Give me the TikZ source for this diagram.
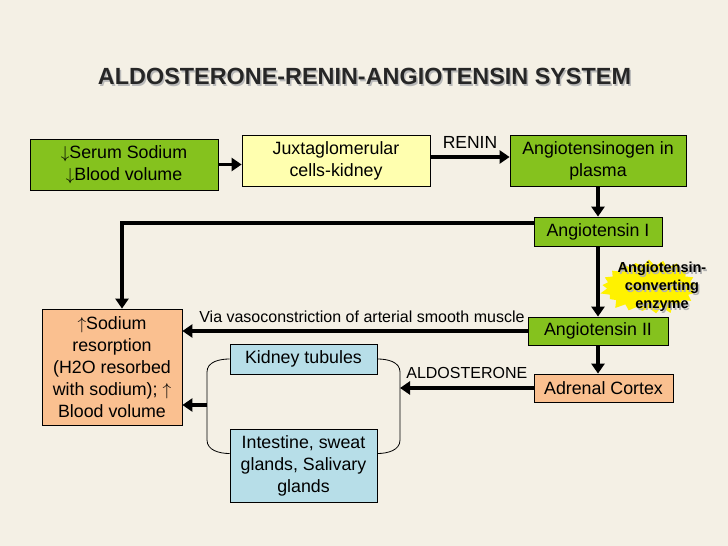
\documentclass[tikz,border=0pt]{standalone}
\usepackage{fontspec}
\setmainfont{Liberation Sans}
\usetikzlibrary{positioning,shapes.symbols,arrows.meta}

\definecolor{boxgreen}{RGB}{133,194,30}
\definecolor{boxyellow}{RGB}{255,255,175}
\definecolor{boxpeach}{RGB}{250,192,144}
\definecolor{boxblue}{RGB}{183,222,232}
\definecolor{bgbeige}{RGB}{244,240,229}

\begin{document}
\begin{tikzpicture}[x=1pt,y=-1pt,
		box/.style={ % common look of the boxes
				draw=black, line width=0.8pt, inner sep=0pt, align=center,
				font=\fontsize{17.8}{22}\selectfont
			},
		greenbox/.style={box, fill=boxgreen},
		yellowbox/.style={box, fill=boxyellow},
		peachbox/.style={box, fill=boxpeach},
		bluebox/.style={box, fill=boxblue},
		flow/.style={line width=3.5pt, -{Triangle[length=10pt,width=13pt]}},
		bracket/.style={line width=0.8pt},
		note/.style={inner sep=0pt, font=\fontsize{16}{18}\selectfont},
		heading/.style={inner sep=0pt, font=\bfseries\fontsize{23.4}{28}\selectfont}
	]
	% background
	\fill[bgbeige] (0,0) rectangle (728,546);
	\useasboundingbox (0,0) rectangle (728,546);
	% title
	\node[heading, text=gray!55] at (366,78) {ALDOSTERONE-RENIN-ANGIOTENSIN SYSTEM};
	\node[heading, text=black!85] (title) at (364.5,76.5) {ALDOSTERONE-RENIN-ANGIOTENSIN SYSTEM};
	% top row
	\node[greenbox, minimum width=188pt, minimum height=51pt] (serum) at (124,164.5)
	{$\downarrow$Serum Sodium\\$\downarrow$Blood volume};
	\node[yellowbox, minimum width=188pt, minimum height=51pt] (juxta) at (336,160.5)
	{Juxtaglomerular\\cells-kidney};
	\node[greenbox, minimum width=176pt, minimum height=51pt] (agen) at (598,160.5)
	{Angiotensinogen in\\plasma};
	% right column
	\node[greenbox, minimum width=128pt, minimum height=29pt] (aI) at (598,231.5) {Angiotensin I};
	\node[greenbox, minimum width=140pt, minimum height=28pt] (aII) at (598,331) {Angiotensin II};
	\node[peachbox, minimum width=139pt, minimum height=28pt] (adrenal) at (603.5,388) {Adrenal Cortex};
	% left side
	\node[peachbox, minimum width=140pt, minimum height=116pt] (sodium) at (112,367)
	{$\uparrow$Sodium\\resorption\\(H2O resorbed\\with sodium); $\uparrow$\\Blood volume};
	\node[bluebox, minimum width=147pt, minimum height=30pt] (kidney) at (303.5,359) {Kidney tubules};
	\node[bluebox, minimum width=147pt, minimum height=73pt] (intestine) at (303.5,465.5)
	{Intestine, sweat\\glands, Salivary\\glands};
	% enzyme burst
	\node[starburst, fill=yellow, draw=none, minimum width=102pt, minimum height=60pt,
		starburst points=21, starburst point height=9pt] (burst) at (649,287) {};
	\node[align=center, inner sep=0pt, text=gray!60, font=\bfseries\fontsize{14.5}{18}\selectfont]
	at (663.5,288.5) {Angiotensin-\\converting\\enzyme};
	\node[align=center, inner sep=0pt, font=\bfseries\fontsize{14.5}{18}\selectfont] (ace)
	at (662,287) {Angiotensin-\\converting\\enzyme};
	% helper points
	\coordinate (corner) at (122,223);
	\coordinate (lbr) at (207,405);
	\coordinate (rbr) at (400,388);
	% arrows
	\draw[flow] (serum) -- (juxta.west |- serum);
	\draw[flow] (juxta.east |- 0,157) -- (agen.west |- 0,157)
	node[note, midway, above=7pt, font=\fontsize{17.5}{18}\selectfont] (renin) {RENIN};
	\draw[flow] (agen) -- (aI);
	\draw[flow] ([yshift=8.5pt]aI.west) -- (corner) -- (corner |- sodium.north);
	\draw[flow] (aI) -- (aII);
	\draw[flow] (aII) -- (sodium.east |- aII)
	node[note, pos=0.48, above=7pt] (via) {Via vasoconstriction of arterial smooth muscle};
	\draw[flow] (aII) -- (aII.south |- adrenal.north);
	\draw[flow] (adrenal) -- (rbr)
	node[note, pos=0.5, above=8pt] (aldo) {ALDOSTERONE};
	\draw[flow] (lbr) -- (sodium.east |- lbr);
	% brackets round the target organs
	\draw[bracket] (kidney.east) to[out=0,in=90] (400,372) -- (400,440)
	to[out=-90,in=0] ([yshift=12pt]intestine.east);
	\draw[bracket] (kidney.west) to[out=180,in=90] (207,372) -- (207,440)
	to[out=-90,in=180] ([yshift=12pt]intestine.west);
\end{tikzpicture}
\end{document}
